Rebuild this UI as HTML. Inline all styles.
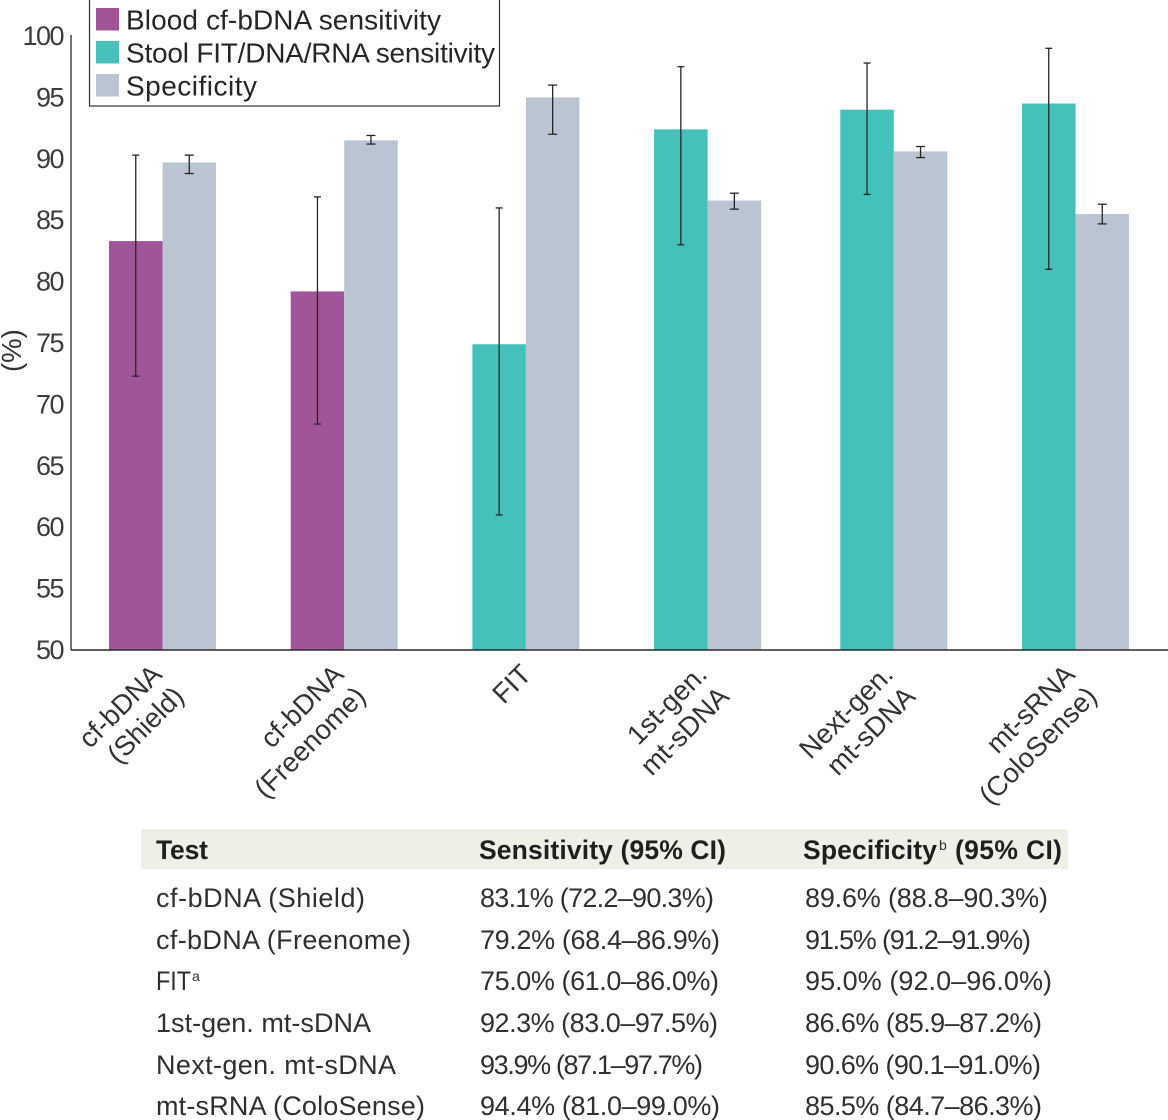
<!DOCTYPE html>
<html lang="en">
<head>
<meta charset="utf-8">
<title>Colorectal cancer screening test performance</title>
<style>
html,body{margin:0;padding:0;background:#fff;width:1168px;height:1120px;overflow:hidden}
svg{display:block;font-family:"Liberation Sans",sans-serif}
.leg{font-size:28px;fill:#262626}
.cell{font-size:27px;fill:#303030}
.head{font-size:26.5px;font-weight:bold;fill:#1f1f1f}
.sup{font-size:14px;fill:#303030}
.tick{font-size:27px;fill:#3c3c3c;letter-spacing:-1.5px}
.cat{font-size:27.5px;fill:#333}
</style>
</head>
<body>
<svg id="chart" width="1168" height="1120" viewBox="0 0 1168 1120" xmlns="http://www.w3.org/2000/svg">
  <g id="bars"></g>
  <g id="errors"></g>
  <line x1="71" y1="35" x2="71" y2="650" stroke="#2a2a2a" stroke-width="1.3"/>
  <line x1="71" y1="650" x2="1168" y2="650" stroke="#2a2a2a" stroke-width="1.4"/>
  <g id="yticks"></g>
  <g id="xlabels"></g>
  <text class="cat" transform="translate(21,372) rotate(-90)">(%)</text>

  <g>
    <rect x="89.5" y="-1" width="410" height="107" fill="#fff" stroke="#333" stroke-width="1.2"/>
    <rect x="96" y="8" width="23" height="22.5" fill="#a0559a"/>
    <text class="leg" x="126" y="29.5" textLength="315">Blood cf-bDNA sensitivity</text>
    <rect x="96" y="41" width="23" height="22.5" fill="#45c1bc"/>
    <text class="leg" x="126" y="62.5" textLength="369">Stool FIT/DNA/RNA sensitivity</text>
    <rect x="96" y="74" width="23" height="22.5" fill="#bbc4d2"/>
    <text class="leg" x="126" y="95.5" textLength="131">Specificity</text>
  </g>

  <g>
    <rect x="141" y="829" width="927" height="40" fill="#efefe7"/>
    <text class="head" x="156" y="859" textLength="52">Test</text>
    <text class="head" x="479" y="859" textLength="247">Sensitivity (95% CI)</text>
    <text class="head" x="803" y="859" textLength="134">Specificity</text>
    <text class="sup" x="939" y="850">b</text>
    <text class="head" x="955" y="859" textLength="107">(95% CI)</text>

    <text class="cell" x="156" y="907" textLength="209">cf-bDNA (Shield)</text>
    <text class="cell" x="480" y="907" textLength="234">83.1% (72.2–90.3%)</text>
    <text class="cell" x="805" y="907" textLength="243">89.6% (88.8–90.3%)</text>

    <text class="cell" x="156" y="949" textLength="255">cf-bDNA (Freenome)</text>
    <text class="cell" x="480" y="949" textLength="240">79.2% (68.4–86.9%)</text>
    <text class="cell" x="805" y="949" textLength="226">91.5% (91.2–91.9%)</text>

    <text class="cell" x="156" y="990" textLength="35" lengthAdjust="spacingAndGlyphs">FIT</text>
    <text class="sup" x="192" y="981">a</text>
    <text class="cell" x="480" y="990" textLength="239">75.0% (61.0–86.0%)</text>
    <text class="cell" x="805" y="990" textLength="247">95.0% (92.0–96.0%)</text>

    <text class="cell" x="156" y="1032" textLength="215">1st-gen. mt-sDNA</text>
    <text class="cell" x="480" y="1032" textLength="238">92.3% (83.0–97.5%)</text>
    <text class="cell" x="805" y="1032" textLength="237">86.6% (85.9–87.2%)</text>

    <text class="cell" x="156" y="1074" textLength="240">Next-gen. mt-sDNA</text>
    <text class="cell" x="480" y="1074" textLength="223">93.9% (87.1–97.7%)</text>
    <text class="cell" x="805" y="1074" textLength="236">90.6% (90.1–91.0%)</text>

    <text class="cell" x="156" y="1115" textLength="269">mt-sRNA (ColoSense)</text>
    <text class="cell" x="480" y="1115" textLength="240">94.4% (81.0–99.0%)</text>
    <text class="cell" x="805" y="1115" textLength="237">85.5% (84.7–86.3%)</text>
  </g>
</svg>

<script>
const categories = [
  ["cf-bDNA", "(Shield)"],
  ["cf-bDNA", "(Freenome)"],
  ["FIT"],
  ["1st-gen.", "mt-sDNA"],
  ["Next-gen.", "mt-sDNA"],
  ["mt-sRNA", "(ColoSense)"]
];
const sensitivityKind = ["blood", "blood", "stool", "stool", "stool", "stool"];
const sensitivity = [83.3, 79.2, 74.9, 92.4, 94.0, 94.5];
const sensitivityLow = [72.3, 68.4, 61.0, 83.0, 87.1, 81.0];
const sensitivityHigh = [90.3, 86.9, 86.0, 97.5, 97.8, 99.0];
const specificity = [89.7, 91.5, 95.0, 86.6, 90.6, 85.5];
const specificityLow = [88.8, 91.2, 92.0, 85.9, 90.1, 84.7];
const specificityHigh = [90.3, 91.9, 96.0, 87.2, 91.0, 86.3];
const yTicks = [50, 55, 60, 65, 70, 75, 80, 85, 90, 95, 100];

const NS = "http://www.w3.org/2000/svg";
const BAR_W = 53.5;
const kindColor = { blood: "#a0559a", stool: "#45c1bc" };
const specColor = "#bbc4d2";

function yScale(v) { return 650 - (v - 50) * 12.28; }
function xBand(i) { return 162.5 + 181.7 * i + (i >= 4 ? 4.5 : 0); }

function make(tag, attrs, parent) {
  const el = document.createElementNS(NS, tag);
  for (const k in attrs) el.setAttribute(k, attrs[k]);
  parent.appendChild(el);
  return el;
}

const barsG = document.getElementById("bars");
const errG = document.getElementById("errors");
const ticksG = document.getElementById("yticks");
const labelsG = document.getElementById("xlabels");

function drawBar(x, value, color, name) {
  const el = make("rect", { x: x, y: yScale(value), width: BAR_W, height: 650 - yScale(value), fill: color }, barsG);
  
  
}

function drawError(x, low, high, capHalf, name) {
  const g = make("g", { stroke: "#262626", "stroke-width": 1.3 }, errG);
  
  
  make("line", { x1: x, x2: x, y1: yScale(high), y2: yScale(low) }, g);
  make("line", { x1: x - capHalf, x2: x + capHalf, y1: yScale(high), y2: yScale(high) }, g);
  make("line", { x1: x - capHalf, x2: x + capHalf, y1: yScale(low), y2: yScale(low) }, g);
}

categories.forEach(function (lines, i) {
  const c = xBand(i);
  drawBar(c - BAR_W, sensitivity[i], kindColor[sensitivityKind[i]], "sensitivity-bar-" + i);
  drawBar(c, specificity[i], specColor, "specificity-bar-" + i);
  drawError(c - BAR_W / 2, sensitivityLow[i], sensitivityHigh[i], 3.5, "sensitivity-error-" + i);
  drawError(c + BAR_W / 2, specificityLow[i], specificityHigh[i], 4.5, "specificity-error-" + i);

  const single = lines.length === 1;
  lines.forEach(function (line, j) {
    const ax = c + (single ? 7 : 1) + j * 22;
    const ay = 676 + j * 22;
    const t = make("text", { class: "cat", "text-anchor": "end", transform: "translate(" + ax + "," + ay + ") rotate(-45)" }, labelsG);
    t.textContent = line;
    
    
  });
});

yTicks.forEach(function (v) {
  const t = make("text", { class: "tick", x: 63, y: yScale(v) + 9, "text-anchor": "end" }, ticksG);
  t.textContent = v;
  
  
});
</script>
</body>
</html>
